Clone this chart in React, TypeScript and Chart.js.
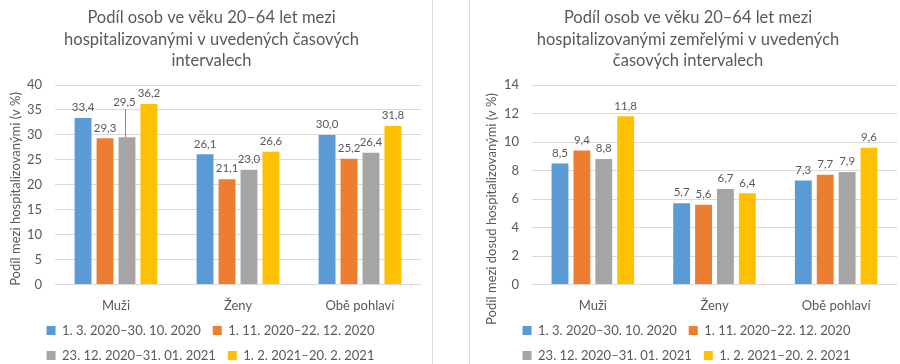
import React, { useEffect, useRef } from 'react';
import { Chart, registerables } from 'chart.js';

Chart.register(...registerables);
Chart.defaults.font.family = 'Lato';

// ---------- data ----------
const categories = ['Muži', 'Ženy', 'Obě pohlaví'];
const seriesLabels = [
  '1. 3. 2020–30. 10. 2020',
  '1. 11. 2020–22. 12. 2020',
  '23. 12. 2020–31. 01. 2021',
  '1. 2. 2021–20. 2. 2021',
];
const seriesColors = ['#5B9BD5', '#ED7D31', '#A5A5A5', '#FFC000'];

// Chart 1: share among hospitalised (%)
const hospPeriod1 = [33.4, 26.1, 30.0];
const hospPeriod2 = [29.3, 21.1, 25.2];
const hospPeriod3 = [29.5, 23.0, 26.4];
const hospPeriod4 = [36.2, 26.6, 31.8];

// Chart 2: share among deceased hospitalised (%)
const deadPeriod1 = [8.5, 5.7, 7.3];
const deadPeriod2 = [9.4, 5.6, 7.7];
const deadPeriod3 = [8.8, 6.7, 7.9];
const deadPeriod4 = [11.8, 6.4, 9.6];

const hospTitle = [
  'Podíl osob ve věku 20–64 let mezi',
  'hospitalizovanými v uvedených časových',
  'intervalech',
];
const deadTitle = [
  'Podíl osob ve věku 20–64 let mezi',
  'hospitalizovanými zemřelými v uvedených',
  'časových intervalech',
];
const hospYTitle = 'Podíl mezi hospitalizovanými (v %)';
const deadYTitle = 'Podíl mezi dosud hospitalizovanými (v %)';

const TEXT = '#595959';
const GRID = '#D9D9D9';

type LabelOffset = { d: number; i: number; dx: number; dy: number };

type Props = {
  left: number;
  width: number;
  height: number;
  values: number[][];
  max: number;
  step: number;
  title: string[];
  yTitle: string;
  yTitleY: number;
  yWidth: number;
  padRight: number;
  labelOffsets: LabelOffset[];
};

function BarChart(p: Props) {
  const ref = useRef<HTMLCanvasElement>(null);
  useEffect(() => {
    const decor = {
      id: 'decor',
      afterDraw(chart: any) {
        const ctx = chart.ctx as CanvasRenderingContext2D;
        ctx.save();
        ctx.fillStyle = TEXT;
        ctx.textAlign = 'center';
        ctx.textBaseline = 'middle';
        // chart title
        ctx.font = '16.5px Lato';
        p.title.forEach((line, k) => ctx.fillText(line, p.width / 2, 18 + k * 21.5));
        // y axis title
        ctx.save();
        ctx.translate(16, p.yTitleY);
        ctx.rotate(-Math.PI / 2);
        ctx.font = '13px Lato';
        ctx.fillText(p.yTitle, 0, 0);
        ctx.restore();
        // category labels, placed by the x scale
        const xs = chart.scales.x;
        ctx.font = '13px Lato';
        chart.data.labels.forEach((lab: string, i: number) => {
          ctx.fillText(lab, xs.getPixelForValue(i), chart.chartArea.bottom + 21);
        });
        // data labels
        ctx.font = '11.5px Lato';
        chart.data.datasets.forEach((ds: any, di: number) => {
          const meta = chart.getDatasetMeta(di);
          meta.data.forEach((el: any, i: number) => {
            const v = ds.data[i] as number;
            const text = v.toFixed(1).replace('.', ',');
            const off = p.labelOffsets.find((o) => o.d === di && o.i === i);
            let x = el.x;
            let y = el.y - 10.5;
            if (off) {
              x = el.x + off.dx;
              y = el.y + off.dy;
              // leader line from the moved label down to the bar top
              ctx.fillStyle = '#8A8A8A';
              const x0 = Math.round(el.x - 1.5);
              const top = Math.round(y + 7);
              ctx.fillRect(x0, top, 1, Math.round(el.y) - top);
              ctx.fillStyle = TEXT;
            }
            ctx.fillText(text, x, y);
          });
        });
        ctx.restore();
      },
    };
    const chart = new Chart(ref.current!, {
      type: 'bar',
      data: {
        labels: categories,
        datasets: seriesLabels.map((label, k) => ({
          label,
          data: p.values[k],
          backgroundColor: seriesColors[k],
          borderWidth: 0,
          categoryPercentage: 0.72,
          barPercentage: 0.77,
        })),
      },
      options: {
        responsive: false,
        maintainAspectRatio: false,
        animation: false,
        layout: { padding: { top: 85, right: p.padRight, left: 0, bottom: 0 } },
        scales: {
          x: {
            grid: { display: false },
            border: { display: false },
            ticks: { display: false },
            afterFit: (s: any) => {
              s.height = 27.5;
            },
          },
          y: {
            min: 0,
            max: p.max,
            ticks: { stepSize: p.step, color: TEXT, font: { size: 13 }, padding: 13 },
            grid: { color: GRID, drawTicks: false },
            border: { display: false },
            afterFit: (s: any) => {
              s.width = p.yWidth;
            },
          },
        },
        plugins: {
          legend: {
            position: 'bottom',
            labels: {
              boxWidth: 9,
              boxHeight: 9,
              padding: 12,
              color: TEXT,
              font: { size: 13 },
            },
          },
          tooltip: { enabled: false },
        },
      },
      plugins: [decor],
    } as any);
    return () => chart.destroy();
  }, []);
  return (
    <canvas
      ref={ref}
      width={p.width}
      height={p.height}
      style={{ position: 'absolute', left: p.left, top: 0, width: p.width, height: p.height }}
    />
  );
}

export default function App() {
  return (
    <div
      style={{
        position: 'absolute',
        left: 0,
        top: 0,
        width: 900,
        height: 364,
        overflow: 'hidden',
        background: '#fff',
      }}
    >
      <BarChart
        left={0}
        width={423}
        height={372}
        values={[hospPeriod1, hospPeriod2, hospPeriod3, hospPeriod4]}
        max={40}
        step={5}
        title={hospTitle}
        yTitle={hospYTitle}
        yTitleY={189}
        yWidth={55}
        padRight={2}
        labelOffsets={[{ d: 2, i: 0, dx: -2.5, dy: -35 }]}
      />
      <BarChart
        left={476}
        width={424}
        height={372}
        values={[deadPeriod1, deadPeriod2, deadPeriod3, deadPeriod4]}
        max={14}
        step={2}
        title={deadTitle}
        yTitle={deadYTitle}
        yTitleY={209}
        yWidth={56}
        padRight={3}
        labelOffsets={[]}
      />
      <div style={{ position: 'absolute', left: 432, top: 0, width: 1, height: 364, background: GRID }} />
      <div style={{ position: 'absolute', left: 469, top: 0, width: 1, height: 364, background: GRID }} />
    </div>
  );
}
